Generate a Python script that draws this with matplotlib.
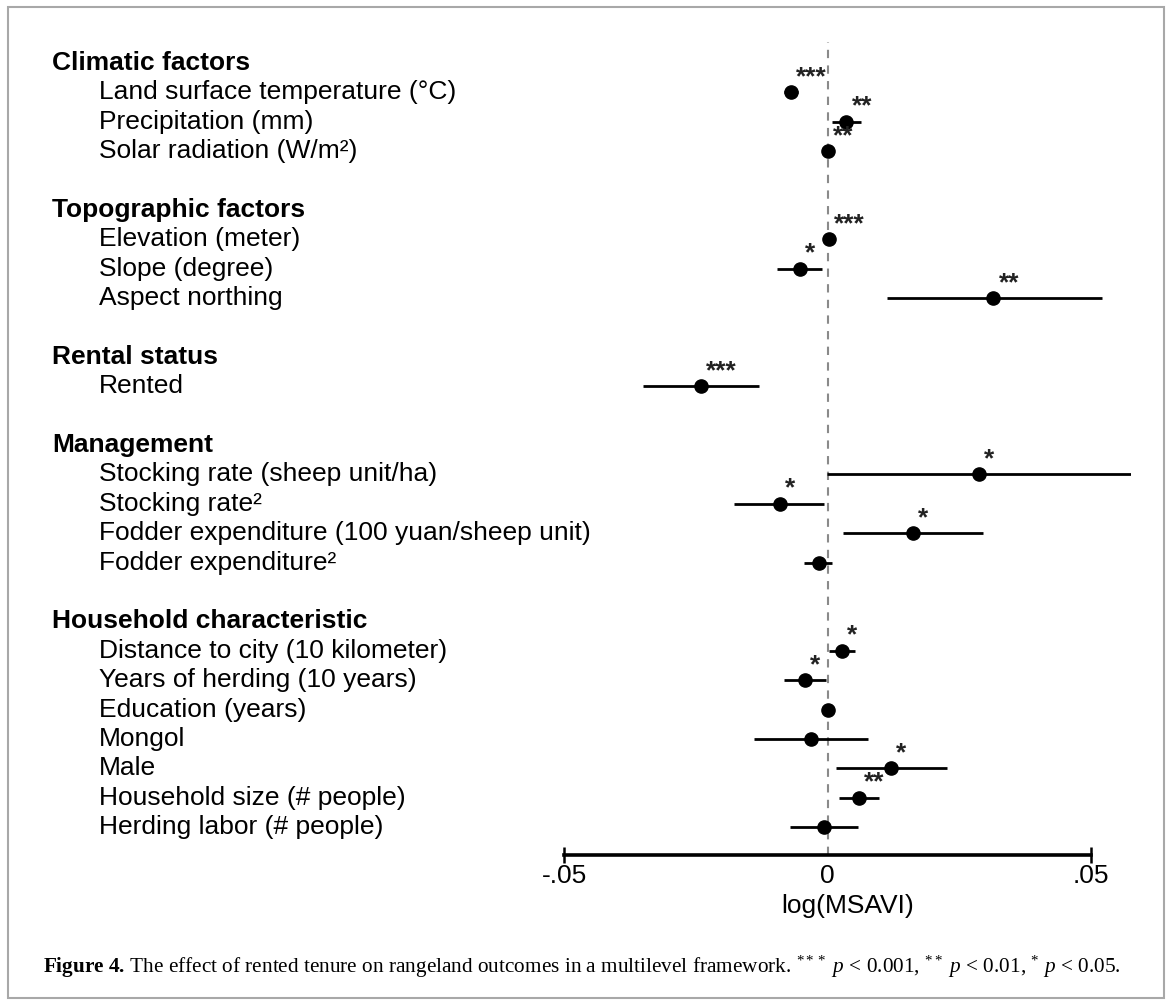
import numpy as np
import matplotlib
matplotlib.use("Agg")
import matplotlib.pyplot as plt
from matplotlib.transforms import blended_transform_factory
from matplotlib.patches import Rectangle

plt.rcParams['font.family'] = ['Liberation Sans', 'DejaVu Sans']
plt.rcParams['mathtext.fontset'] = 'custom'
plt.rcParams['mathtext.rm'] = 'Liberation Serif'
plt.rcParams['mathtext.it'] = 'Liberation Serif:italic'
plt.rcParams['mathtext.bf'] = 'Liberation Serif:bold'

# Data
groups = ["Climatic factors", "Topographic factors", "Rental status",
          "Management", "Household characteristic"]
group_sizes = [3, 3, 1, 4, 7]
variables = [
    "Land surface temperature (°C)", "Precipitation (mm)", "Solar radiation (W/m²)",
    "Elevation (meter)", "Slope (degree)", "Aspect northing",
    "Rented",
    "Stocking rate (sheep unit/ha)", "Stocking rate²",
    "Fodder expenditure (100 yuan/sheep unit)", "Fodder expenditure²",
    "Distance to city (10 kilometer)", "Years of herding (10 years)",
    "Education (years)", "Mongol", "Male", "Household size (# people)",
    "Herding labor (# people)",
]
coef = [-0.0070, 0.0036, 0.0001,
        0.0002, -0.0053, 0.0315,
        -0.0240,
        0.0288, -0.0091, 0.0163, -0.0017,
        0.0027, -0.0042, 0.0000, -0.0031, 0.0121, 0.0059, -0.0007]
ci_low = [-0.0083, 0.0009, -0.0002,
          -0.0001, -0.0096, 0.0112,
          -0.0350,
          -0.0001, -0.0177, 0.0029, -0.0044,
          0.0003, -0.0082, -0.0009, -0.0140, 0.0017, 0.0022, -0.0072]
ci_high = [-0.0056, 0.0064, 0.0004,
           0.0005, -0.0010, 0.0520,
           -0.0130,
           0.0575, -0.0006, 0.0296, 0.0009,
           0.0053, -0.0003, 0.0009, 0.0076, 0.0226, 0.0097, 0.0057]
stars = ["***", "**", "**",
         "***", "*", "**",
         "***",
         "*", "*", "*", "",
         "*", "*", "", "", "*", "**", ""]

# row layout: header, items, blank line
header_rows = []
item_rows = []
r = 0
for n in group_sizes:
    header_rows.append(r)
    item_rows.extend(range(r + 1, r + 1 + n))
    r += n + 2

fig = plt.figure(figsize=(11.68, 10), dpi=100)
ax = fig.add_axes([0.4829, 0.145, 0.485, 0.813])

ax.axvline(0, color='#8a8a8a', lw=1.5, dashes=(4, 3.5), zorder=1)

for y, c, lo, hi, s in zip(item_rows, coef, ci_low, ci_high, stars):
    ax.plot([lo, hi], [y, y], color='black', lw=2, solid_capstyle='butt', zorder=2)
    ax.plot(c, y, 'o', color='black', ms=9.5, zorder=3)
    if s:
        ax.annotate(s, (c, y), xytext=(5, 8), textcoords='offset pixels',
                    ha='left', va='baseline', fontsize=19, fontweight='bold',
                    color='#222222')

tr = blended_transform_factory(fig.transFigure, ax.transData)
for y, g in zip(header_rows, groups):
    ax.text(52 / 1168, y, g, transform=tr, fontsize=19, fontweight='bold', va='center')
for y, v in zip(item_rows, variables):
    ax.text(99 / 1168, y, v, transform=tr, fontsize=19, va='center')

ax.set_xlim(-0.05, 0.0575)
ax.set_ylim(26.95, -0.71)
for side in ['top', 'right', 'left']:
    ax.spines[side].set_visible(False)
ax.spines['bottom'].set_bounds(-0.05, 0.05)
ax.spines['bottom'].set_linewidth(2.6)
ax.set_yticks([])
ax.set_xticks([-0.05, 0, 0.05])
ax.set_xticklabels(['-.05', '0', '.05'])
ax.tick_params(axis='x', which='major', length=11, width=1.8, direction='inout',
               pad=1, labelsize=19)
ax.xaxis.get_major_ticks()[1].tick1line.set_visible(False)
ax.set_xlabel('log(MSAVI)', fontsize=19, labelpad=4)

caption = (r"$\mathbf{Figure\ 4.}\,$The effect of rented tenure on rangeland outcomes "
           r"in a multilevel framework. $^{***}$ $p$ < 0.001, $^{**}$ $p$ < 0.01, "
           r"$^{*}$ $p$ < 0.05.")
fig.text(43 / 1168, 1 - 967 / 1000, caption, fontsize=15.3, family='Liberation Serif',
         va='center')

fig.patches.append(Rectangle((8 / 1168, 0.002), 1156 / 1168, 0.991,
                             transform=fig.transFigure, fill=False,
                             edgecolor='#a8a8a8', lw=1.5))

fig.savefig('out.png', dpi=100)
